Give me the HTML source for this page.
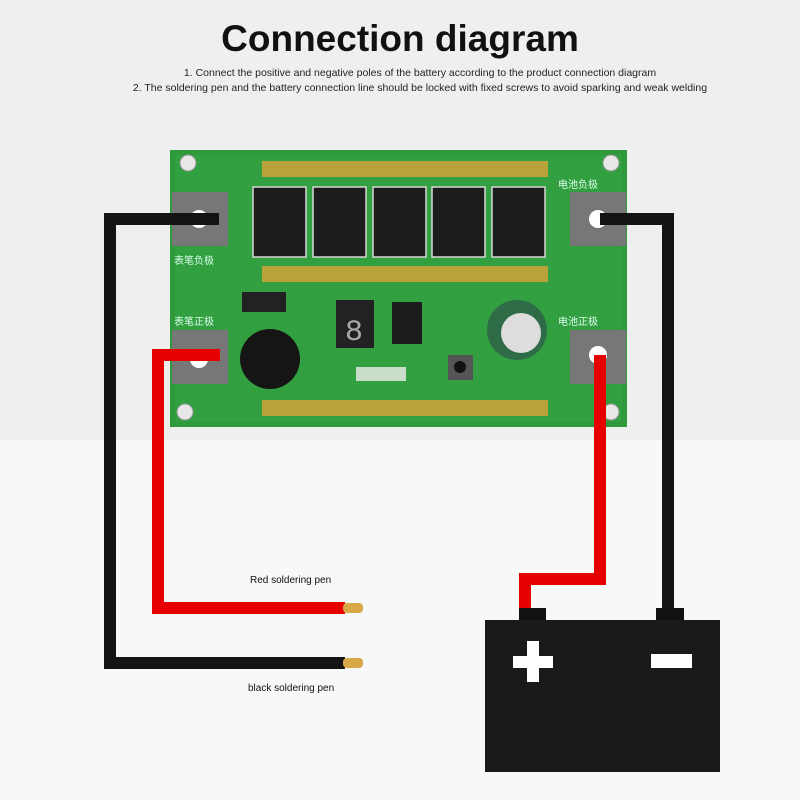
<!DOCTYPE html>
<html><head><meta charset="utf-8"><style>
body{margin:0;width:800px;height:800px;background:#f7f8f8;font-family:"Liberation Sans","Noto Sans CJK SC",sans-serif;position:relative;overflow:hidden}
.a{position:absolute}
</style></head><body>
<div class="a" style="left:0;top:0;width:800px;height:440px;background:#eef0ef"></div>
<div class="a" style="left:0;top:18px;width:800px;text-align:center;font-size:37px;font-weight:bold;color:#111">Connection diagram</div>
<div class="a" style="left:0;top:67px;width:840px;text-align:center;font-size:10.5px;color:#222">1. Connect the positive and negative poles of the battery according to the product connection diagram</div>
<div class="a" style="left:0;top:82px;width:840px;text-align:center;font-size:10.5px;color:#222">2. The soldering pen and the battery connection line should be locked with fixed screws to avoid sparking and weak welding</div>
<svg class="a" style="left:0;top:0" width="800" height="800">
<rect x="170" y="150" width="457" height="277" fill="#2f9a3c"/>
<rect x="175" y="155" width="447" height="267" fill="#35a544" opacity=".6"/>
<g fill="#e8e8e8" stroke="#999"><circle cx="188" cy="163" r="8"/><circle cx="611" cy="163" r="8"/><circle cx="185" cy="412" r="8"/><circle cx="611" cy="412" r="8"/></g>
<rect x="262" y="161" width="286" height="16" fill="#b9a23a"/><rect x="262" y="266" width="286" height="16" fill="#b9a23a"/><rect x="262" y="400" width="286" height="16" fill="#b9a23a"/>
<g fill="#1c1c1c" stroke="#d8d8d8" stroke-width="1.5"><rect x="253" y="187" width="53" height="70"/><rect x="313" y="187" width="53" height="70"/><rect x="373" y="187" width="53" height="70"/><rect x="432" y="187" width="53" height="70"/><rect x="492" y="187" width="53" height="70"/></g>
<g fill="#777"><rect x="172" y="192" width="56" height="54"/><rect x="172" y="330" width="56" height="54"/><rect x="570" y="192" width="56" height="54"/><rect x="570" y="330" width="56" height="54"/></g>
<g fill="#fff"><circle cx="199" cy="219" r="9"/><circle cx="199" cy="359" r="9"/><circle cx="598" cy="219" r="9"/><circle cx="598" cy="355" r="9"/></g>
<circle cx="270" cy="359" r="30" fill="#151515"/>
<rect x="336" y="300" width="38" height="48" fill="#222"/><text x="345" y="340" fill="#aaa" font-size="30" font-family="Liberation Mono">8</text>
<rect x="392" y="302" width="30" height="42" fill="#1c1c1c"/>
<rect x="448" y="355" width="25" height="25" fill="#555"/><circle cx="460" cy="367" r="6" fill="#111"/>
<circle cx="517" cy="330" r="30" fill="#2e6b47"/><circle cx="521" cy="333" r="20" fill="#ddd"/>
<rect x="356" y="367" width="50" height="14" fill="#eee" opacity=".8"/>
<rect x="242" y="292" width="44" height="20" fill="#222"/>
<text x="174" y="264" font-size="10" fill="#dfe">表笔负极</text><text x="174" y="325" font-size="10" fill="#dfe">表笔正极</text>
<text x="558" y="188" font-size="10" fill="#dfe">电池负极</text><text x="558" y="325" font-size="10" fill="#dfe">电池正极</text>
<g fill="none" stroke-width="12" stroke-linejoin="miter">
<polyline points="219,219 110,219 110,663 345,663" stroke="#141414"/>
<polyline points="220,355 158,355 158,608 345,608" stroke="#e60000"/>
<polyline points="600,219 668,219 668,612" stroke="#141414"/>
<polyline points="600,355 600,579 525,579 525,612" stroke="#e60000"/>
</g>
<rect x="343" y="603" width="20" height="10" rx="4" fill="#d8a848"/>
<rect x="343" y="658" width="20" height="10" rx="4" fill="#d8a848"/>
<rect x="519" y="608" width="27" height="14" fill="#111"/><rect x="656" y="608" width="28" height="14" fill="#111"/>
<rect x="485" y="620" width="235" height="152" fill="#1a1a1a"/>
<rect x="513" y="656" width="40" height="12" fill="#fff"/><rect x="527" y="641" width="12" height="41" fill="#fff"/>
<rect x="651" y="654" width="41" height="14" fill="#fff"/>
</svg>
<div class="a" style="left:250px;top:575px;font-size:10px;color:#111">Red soldering pen</div>
<div class="a" style="left:248px;top:683px;font-size:10px;color:#111">black soldering pen</div>
</body></html>
